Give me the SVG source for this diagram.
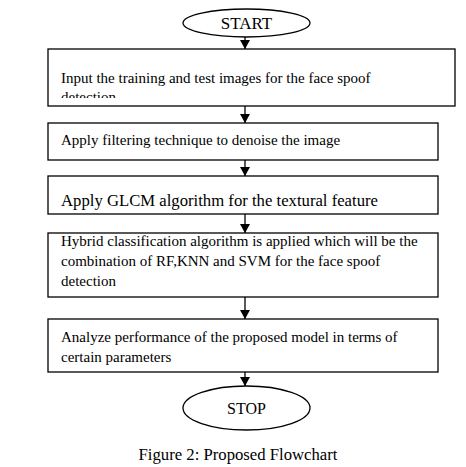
<svg xmlns="http://www.w3.org/2000/svg" width="466" height="467" viewBox="0 0 466 467">
<style>
.b{fill:#fff;stroke:#000;stroke-width:1.3}
.t{font-family:"Liberation Serif","Times New Roman",serif;fill:#000;font-size:15px}
.c{stroke:#000;stroke-width:1.3;fill:none}
</style>
<defs>
<marker id="ah" markerWidth="10" markerHeight="10" refX="9" refY="5" orient="auto" markerUnits="userSpaceOnUse" viewBox="0 0 9 10">
<path d="M0,0 L9,5 L0,10 Z" fill="#000"/>
</marker>
<clipPath id="cp1"><rect x="48" y="49" width="407" height="49"/></clipPath>
</defs>
<rect width="466" height="467" fill="#fff"/>
<g id="connectors">
<line class="c" x1="245" y1="37" x2="245" y2="49" marker-end="url(#ah)"/>
<line class="c" x1="245" y1="106" x2="245" y2="123" marker-end="url(#ah)"/>
<line class="c" x1="245" y1="160" x2="245" y2="176" marker-end="url(#ah)"/>
<line class="c" x1="245" y1="214" x2="245" y2="233" marker-end="url(#ah)"/>
<line class="c" x1="245" y1="297" x2="245" y2="319" marker-end="url(#ah)"/>
<line class="c" x1="245" y1="372" x2="245" y2="386" marker-end="url(#ah)"/>
</g>
<g id="start">
<ellipse class="b" cx="246.5" cy="23" rx="63.5" ry="14"/>
<text class="t" x="246.5" y="29" text-anchor="middle" style="font-size:17px">START</text>
</g>
<g id="n1">
<rect class="b" x="48" y="49" width="407" height="57"/>
<text class="t" clip-path="url(#cp1)"><tspan x="61" y="83">Input the training and test images for the face spoof</tspan><tspan x="61" y="102">detection</tspan></text>
</g>
<g id="n2">
<rect class="b" x="48" y="123" width="390" height="37"/>
<text class="t" x="61" y="145">Apply filtering technique to denoise the image</text>
</g>
<g id="n3">
<rect class="b" x="48" y="176" width="390" height="38"/>
<text class="t" x="61" y="206" style="font-size:16.7px">Apply GLCM algorithm for the textural feature</text>
</g>
<g id="n4">
<rect class="b" x="48" y="233" width="390" height="64"/>
<text class="t"><tspan x="61" y="246">Hybrid classification algorithm is applied which will be the</tspan><tspan x="61" y="266">combination of RF,KNN and SVM for the face spoof</tspan><tspan x="61" y="286">detection</tspan></text>
</g>
<g id="n5">
<rect class="b" x="48" y="319" width="390" height="53"/>
<text class="t"><tspan x="61" y="342">Analyze performance of the proposed model in terms of</tspan><tspan x="61" y="362">certain parameters</tspan></text>
</g>
<g id="stop">
<ellipse class="b" cx="246.5" cy="408" rx="63.5" ry="22"/>
<text class="t" x="246.5" y="414" text-anchor="middle" style="font-size:16px">STOP</text>
</g>
<text class="t" x="238" y="460" text-anchor="middle" style="font-size:16.7px">Figure 2: Proposed Flowchart</text>
</svg>
